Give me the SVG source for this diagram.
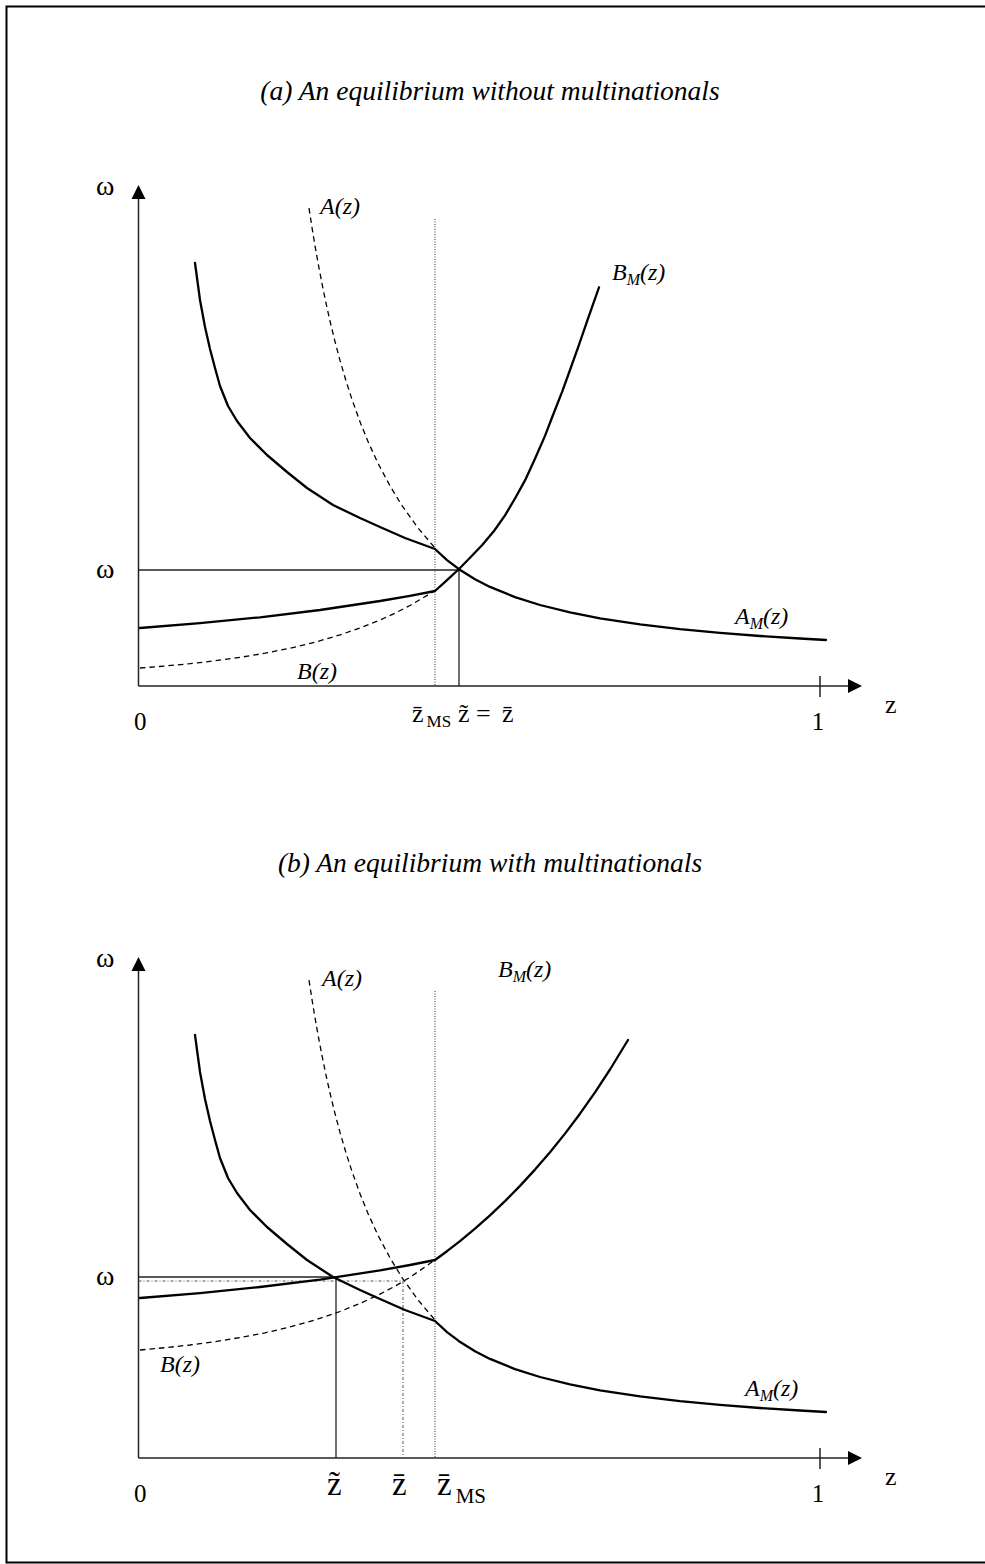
<svg xmlns="http://www.w3.org/2000/svg" width="985" height="1564" viewBox="0 0 985 1564">
<style>
.t{font-family:"Liberation Serif","Times New Roman",serif;fill:#000}
.ttl{font-size:27.5px;font-style:italic}
.lbl{font-size:24px;font-style:italic}
.ax{font-size:25px}
.om{font-size:28px}
.za{font-size:26px}
.zb{font-size:33px}
.axis{stroke:#222;stroke-width:1.5;fill:none}
.solid{stroke:#000;stroke-width:2.3;fill:none;stroke-linejoin:round;stroke-linecap:round}
.dash{stroke:#000;stroke-width:1.3;fill:none;stroke-dasharray:5.5,4}
.dot{stroke:#333;stroke-width:1;fill:none;stroke-dasharray:1,1.5}
.guide{stroke:#222;stroke-width:1.3;fill:none}
.dd{stroke:#555;stroke-width:1;fill:none;stroke-dasharray:3,2,1,2}
</style>
<rect x="6.5" y="6.5" width="990" height="1556" fill="#fff" stroke="#000" stroke-width="2"/>

<g id="panel-a">
  <text class="t ttl" x="490" y="100" text-anchor="middle">(a) An equilibrium without multinationals</text>
  <g id="axes-a">
    <line class="axis" x1="138.5" y1="686" x2="138.5" y2="197"/>
    <polygon points="138.5,185 131.5,199 145.5,199" fill="#000"/>
    <line class="axis" x1="138.5" y1="686" x2="850" y2="686"/>
    <polygon points="862,686 848,679 848,693" fill="#000"/>
    <line class="axis" x1="820" y1="676" x2="820" y2="697"/>
  </g>
  <g id="guides-a">
    <line class="dot" x1="435" y1="219" x2="435" y2="686"/>
    <line class="guide" x1="138.5" y1="570" x2="459" y2="570"/>
    <line class="guide" x1="459" y1="570" x2="459" y2="686"/>
  </g>
  <g id="curves-a">
    <path class="dash" d="M309,208.1 L312,227.5 L315,245.7 L318,262.7 L322,283.7 L326,303.1 L330,321 L335,341.6 L340,360.4 L346,380.9 L352,399.5 L360,421.7 L368,441.5 L378,463.3 L390,485.9 L402,505.6 L418,527.9 L435,548"/>
    <path class="dash" d="M140,668 L165,666 L190,663.7 L215,660.8 L240,657.4 L265,653.2 L290,648.2 L315,642.2 L340,634.9 L360,628 L380,620 L395,613.2 L410,605.5 L435,590.7"/>
    <path class="solid" d="M195,263 L200,300 L205,327 L210,349 L215,368 L220,386 L228,406 L237,421 L250,438 L267,455 L287,472 L307,488 L333,505 L360,518 L380,527 L405,538 L435,549 L447,560.1 L459,569.2 L475,579.2 L490,586.9 L515,597.1 L540,605 L570,612.4 L600,618.3 L640,624.3 L680,629.1 L720,632.9 L760,636 L800,638.5 L826,640"/>
    <path class="solid" d="M140,628 L200,623.2 L260,617.3 L320,610 L380,601 L410,595.8 L435,591 L447,580.2 L459,569 L470,557.8 L482,545.3 L494,531 L505,515.4 L515,498.5 L525,480.4 L535,458.8 L545,435.9 L553,415 L562,392.1 L570,370 L578,347.7 L588,318.7 L599,287.3"/>
  </g>
  <g id="labels-a">
    <text class="t om" x="96" y="195">ω</text>
    <text class="t om" x="96" y="578">ω</text>
    <text class="t ax" x="134" y="730">0</text>
    <text class="t ax" x="818" y="730" text-anchor="middle">1</text>
    <text class="t za" x="885" y="713">z</text>
    <text class="t lbl" x="320" y="214">A(z)</text>
    <text class="t lbl" x="612" y="280">B<tspan font-size="16" dy="5">M</tspan><tspan dy="-5">(z)</tspan></text>
    <text class="t lbl" x="735" y="624">A<tspan font-size="16" dy="5">M</tspan><tspan dy="-5">(z)</tspan></text>
    <text class="t lbl" x="297" y="679">B(z)</text>
    <text class="t za" x="412" y="722">z&#x304;<tspan font-size="17" dx="3" dy="5">MS</tspan></text>
    <text class="t za" y="722"><tspan x="458">z&#x303;</tspan><tspan x="476">=</tspan><tspan x="502">z&#x304;</tspan></text>
  </g>
</g>

<g id="panel-b">
  <text class="t ttl" x="490" y="872" text-anchor="middle">(b) An equilibrium with multinationals</text>
  <g id="axes-b">
    <line class="axis" x1="138.5" y1="1458" x2="138.5" y2="969"/>
    <polygon points="138.5,957 131.5,971 145.5,971" fill="#000"/>
    <line class="axis" x1="138.5" y1="1458" x2="850" y2="1458"/>
    <polygon points="862,1458 848,1451 848,1465" fill="#000"/>
    <line class="axis" x1="820" y1="1448" x2="820" y2="1469"/>
  </g>
  <g id="guides-b">
    <line class="dot" x1="435" y1="991" x2="435" y2="1458"/>
    <line class="dd" x1="138.5" y1="1281" x2="403" y2="1281"/>
    <line class="dd" x1="403" y1="1281" x2="403" y2="1458"/>
    <line class="guide" x1="138.5" y1="1277" x2="336" y2="1277"/>
    <line class="guide" x1="336" y1="1277" x2="336" y2="1458" stroke="#555"/>
  </g>
  <g id="curves-b">
    <path class="dash" d="M309,980.1 L312,999.5 L315,1017.7 L318,1034.7 L322,1055.7 L326,1075.1 L330,1093 L335,1113.6 L340,1132.4 L346,1152.9 L352,1171.5 L360,1193.7 L368,1213.5 L378,1235.3 L390,1257.9 L402,1277.6 L418,1299.9 L435,1320"/>
    <path class="dash" d="M140,1350 L165,1347.7 L190,1345 L215,1341.6 L240,1337.6 L265,1332.8 L290,1327 L315,1320 L340,1311.5 L360,1303.5 L380,1294.1 L395,1286.2 L410,1277.3 L435,1260"/>
    <path class="solid" d="M195,1035 L200,1072 L205,1099 L210,1121 L215,1140 L220,1158 L228,1178 L237,1193 L250,1210 L267,1227 L287,1244 L307,1260 L333,1277 L360,1290 L380,1299 L405,1310 L435,1321 L447,1332.1 L459,1341.2 L475,1351.2 L490,1358.9 L515,1369.1 L540,1377 L570,1384.4 L600,1390.3 L640,1396.3 L680,1401.1 L720,1404.9 L760,1408 L800,1410.5 L826,1412"/>
    <path class="solid" d="M140,1298 L200,1293.1 L260,1287 L320,1279.6 L380,1270.4 L410,1265 L435,1260 L447,1251.2 L460,1241.1 L475,1228.6 L490,1215.4 L505,1201.1 L520,1185.9 L535,1169.6 L550,1152.2 L565,1133.6 L580,1113.7 L595,1092.4 L610,1069.5 L628,1040"/>
  </g>
  <g id="labels-b">
    <text class="t om" x="96" y="967">ω</text>
    <text class="t om" x="96" y="1285">ω</text>
    <text class="t ax" x="134" y="1502">0</text>
    <text class="t ax" x="818" y="1502" text-anchor="middle">1</text>
    <text class="t za" x="885" y="1485">z</text>
    <text class="t lbl" x="322" y="986">A(z)</text>
    <text class="t lbl" x="498" y="977">B<tspan font-size="16" dy="5">M</tspan><tspan dy="-5">(z)</tspan></text>
    <text class="t lbl" x="745" y="1396">A<tspan font-size="16" dy="5">M</tspan><tspan dy="-5">(z)</tspan></text>
    <text class="t lbl" x="160" y="1372">B(z)</text>
    <text class="t zb" x="327" y="1495">z&#x303;</text>
    <text class="t zb" x="392" y="1495">z&#x304;</text>
    <text class="t zb" x="437" y="1495">z&#x304;<tspan font-size="21" dx="4" dy="8">MS</tspan></text>
  </g>
</g>
</svg>
